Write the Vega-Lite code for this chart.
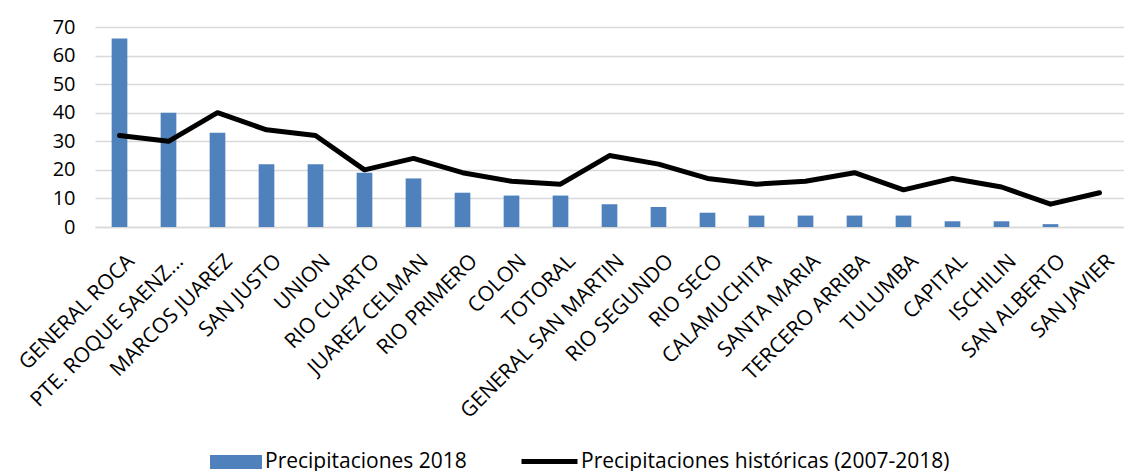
{
  "$schema": "https://vega.github.io/schema/vega-lite/v6.json",
  "width": 1029,
  "height": 200,
  "autosize": {"type": "none"},
  "padding": {"left": 95, "top": 27, "right": 0, "bottom": 244},
  "background": "white",
  "config": {
    "view": {"stroke": null},
    "font": "Open Sans",
    "axis": {"labelFont": "Open Sans", "labelColor": "#000000", "titleColor": "#000000"},
    "legend": {"labelFont": "Open Sans", "labelFontSize": 21, "labelColor": "#000000", "padding": 0, "labelOffset": 3, "orient": "none", "labelLimit": 600}
  },
  "data": {
    "values": [
      {"dept": "GENERAL ROCA", "p2018": 66, "hist": 32},
      {"dept": "PTE. ROQUE SAENZ...", "p2018": 40, "hist": 30},
      {"dept": "MARCOS JUAREZ", "p2018": 33, "hist": 40},
      {"dept": "SAN JUSTO", "p2018": 22, "hist": 34},
      {"dept": "UNION", "p2018": 22, "hist": 32},
      {"dept": "RIO CUARTO", "p2018": 19, "hist": 20},
      {"dept": "JUAREZ CELMAN", "p2018": 17, "hist": 24},
      {"dept": "RIO PRIMERO", "p2018": 12, "hist": 19},
      {"dept": "COLON", "p2018": 11, "hist": 16},
      {"dept": "TOTORAL", "p2018": 11, "hist": 15},
      {"dept": "GENERAL SAN MARTIN", "p2018": 8, "hist": 25},
      {"dept": "RIO SEGUNDO", "p2018": 7, "hist": 22},
      {"dept": "RIO SECO", "p2018": 5, "hist": 17},
      {"dept": "CALAMUCHITA", "p2018": 4, "hist": 15},
      {"dept": "SANTA MARIA", "p2018": 4, "hist": 16},
      {"dept": "TERCERO ARRIBA", "p2018": 4, "hist": 19},
      {"dept": "TULUMBA", "p2018": 4, "hist": 13},
      {"dept": "CAPITAL", "p2018": 2, "hist": 17},
      {"dept": "ISCHILIN", "p2018": 2, "hist": 14},
      {"dept": "SAN ALBERTO", "p2018": 1, "hist": 8},
      {"dept": "SAN JAVIER", "p2018": 0, "hist": 12}
    ]
  },
  "encoding": {
    "x": {
      "field": "dept",
      "type": "nominal",
      "sort": null,
      "title": null,
      "scale": {"paddingInner": 0, "paddingOuter": 0},
      "axis": {
        "labelAngle": -45,
        "labelFontSize": 21,
        "labelPadding": 23,
        "labelOffset": 4,
        "labelOverlap": false,
        "ticks": false,
        "domain": true,
        "domainColor": "#d9d9d9",
        "domainWidth": 1.5,
        "grid": false,
        "labelLimit": 300
      }
    }
  },
  "layer": [
    {
      "mark": {"type": "bar", "width": {"band": 0.32}},
      "encoding": {
        "y": {
          "field": "p2018",
          "type": "quantitative",
          "title": null,
          "scale": {"domain": [0, 70]},
          "axis": {
            "values": [0, 10, 20, 30, 40, 50, 60, 70],
            "labelFontSize": 20,
            "labelPadding": 20,
            "labelOverlap": false,
            "ticks": false,
            "domain": false,
            "grid": true,
            "gridColor": "#d9d9d9",
            "gridWidth": 1.5
          }
        },
        "color": {
          "datum": "Precipitaciones 2018",
          "scale": {"range": ["#4f81bd"]},
          "legend": {
            "title": null,
            "legendX": 115,
            "legendY": 409,
            "symbolType": "M-1,-0.27H1V0.27H-1Z",
            "symbolSize": 2704,
            "symbolStrokeWidth": 0
          }
        }
      }
    },
    {
      "mark": {"type": "line", "strokeWidth": 5, "strokeJoin": "round", "strokeCap": "round"},
      "encoding": {
        "y": {
          "field": "hist",
          "type": "quantitative",
          "title": null,
          "scale": {"domain": [0, 70]},
          "axis": {
            "values": [0, 10, 20, 30, 40, 50, 60, 70],
            "labelFontSize": 20,
            "labelPadding": 20,
            "labelOverlap": false,
            "ticks": false,
            "domain": false,
            "grid": true,
            "gridColor": "#d9d9d9",
            "gridWidth": 1.5
          }
        },
        "stroke": {
          "datum": "Precipitaciones históricas (2007-2018)",
          "scale": {"range": ["#000000"]},
          "legend": {
            "title": null,
            "legendX": 424,
            "legendY": 404,
            "labelOffset": 1,
            "symbolType": "stroke",
            "symbolSize": 3136,
            "symbolStrokeWidth": 5,
            "symbolStrokeColor": "#000000"
          }
        }
      }
    }
  ]
}
